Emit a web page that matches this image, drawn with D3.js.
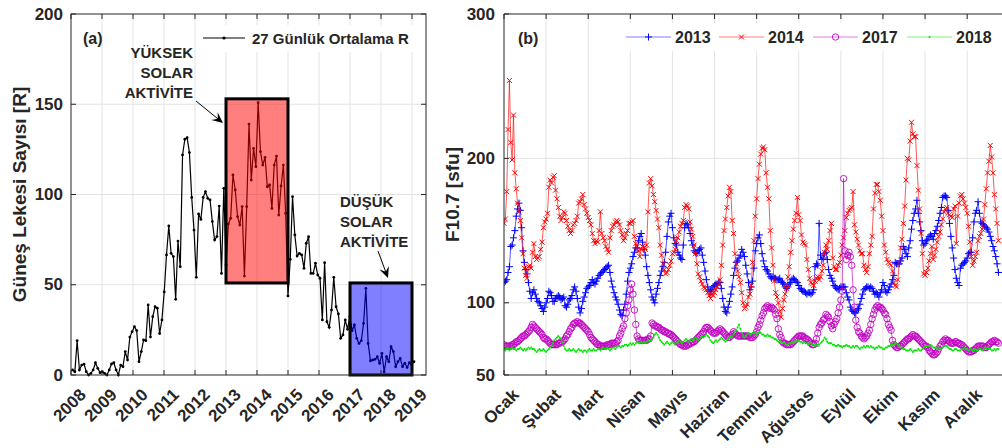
<!DOCTYPE html>
<html>
<head>
<meta charset="utf-8">
<script src="https://cdn.jsdelivr.net/npm/d3@7"></script>
<style>
body { margin: 0; background: #fff; }
text { font-family: "Liberation Sans", Arial, sans-serif; font-weight: bold; fill: #262626; }
</style>
</head>
<body>
<div id="container"></div>
<script>
// --- DATA ---
// (a) 27 day mean sunspot number, one value per 27 days from 2008.05
var sunStartYear = 2008.05
var sunStepDays = 27
var sunspotR = [2.8,1.8,19,2.8,5.5,6,1.8,0,0.9,2.8,6.8,3.7,1.3,1.8,0.9,0,2.8,6.1,6.8,2.8,
    0,5.5,4.6,13,8.3,21,24,26.8,24.6,7.4,13,19.4,19,38.8,21,32.3,37.8,37,23,30.5,
    46,66.5,82.6,67.4,65.6,41.9,74.2,60,121.9,130.6,131.5,123.2,98.4,80.3,54.1,89.2,86.2,98.4,101.6,97.9,
    97,85,74.8,76.7,93.6,56.3,103.4,61,83.7,86.8,110.8,102.5,87.7,83.1,93.3,54.8,93.3,139,108,125.6,
    115.4,150.9,123.7,116.3,120.6,104.3,105.3,92.3,116.3,121.3,88.6,104.7,116.3,89.6,43.8,64.1,98.8,77.6,65.9,67.4,
    66.5,59.1,73,76.6,56.3,56.3,61.9,55.4,53.6,30.5,62.2,29.5,26.4,36,54.1,37.8,33.8,20.3,22.2,30.5,
    25.3,32.3,24.6,27.7,20.3,17.5,19,28.6,48,17.5,7.9,8.3,8.7,10.1,6.5,12,1.8,10.1,7.4,15.7,
    13,4.6,7.4,9.2,4.6,6.5,4.2,6.8,5.5,7.4]
var yearTicks = [2008,2009,2010,2011,2012,2013,2014,2015,2016,2017,2018,2019]
var sunTicks = [0,50,100,150,200]
// shaded periods [startYear, endYear, lowR, highR]
var highPeriod = [2013, 2015, 51, 153]
var lowPeriod = [2017, 2019, 0, 51]

// (b) daily F10.7, day of year 1..365
var f2013 = [114,115,116,121,125,139,140,145,150,160,165,169,164,152,136,128,123,120,114,108,
    103,107,109,106,103,101,100,98,96,94,97,100,103,108,107,105,101,101,103,104,
    105,104,102,103,104,98,97,99,102,103,105,109,111,108,103,97,93,96,101,104,
    107,110,111,112,114,116,114,113,115,117,119,120,121,122,123,124,125,126,121,115,
    111,107,104,102,99,95,92,91,95,99,106,115,121,124,127,132,135,138,138,143,
    146,148,142,137,133,125,119,114,109,104,102,100,106,110,114,119,122,125,128,135,
    146,156,160,162,152,145,141,140,135,133,131,130,140,152,155,154,152,148,143,140,
    136,135,134,136,137,138,133,128,122,116,111,108,108,109,111,112,113,113,114,114,
    110,103,97,94,93,97,101,106,111,119,124,128,129,131,133,137,135,132,126,120,
    114,109,111,115,124,136,141,145,147,141,134,129,125,123,122,120,118,117,118,117,
    117,116,116,117,115,114,113,111,110,111,113,114,116,117,116,115,114,112,110,109,
    108,108,107,106,107,107,106,107,109,125,127,126,155,133,130,131,134,135,130,123,
    119,117,115,112,111,110,109,110,111,111,111,111,107,104,102,97,95,94,93,93,
    95,96,99,103,106,109,110,111,111,110,111,110,108,106,107,106,104,107,109,114,
    112,108,107,109,111,113,116,119,128,127,127,127,129,131,139,137,134,132,138,143,
    151,157,162,165,171,162,156,150,143,140,141,143,144,146,147,146,144,148,150,153,
    157,162,166,173,174,174,173,164,155,146,138,131,123,117,114,112,124,126,127,128,
    129,131,134,135,135,145,156,162,164,170,162,156,155,154,153,152,151,149,146,143,
    139,136,132,127,121]
var f2014 = [155,158,177,220,254,211,199,230,190,179,169,163,157,145,134,124,119,117,125,126,
    124,135,141,132,130,131,132,137,142,152,156,158,162,180,185,183,187,188,178,172,
    166,160,157,159,163,162,157,153,150,148,150,154,155,157,160,169,170,172,175,168,
    165,162,159,157,154,148,143,141,143,142,150,163,148,145,143,139,137,135,145,150,
    153,154,156,157,156,154,150,147,143,145,148,150,155,155,156,157,146,141,139,136,
    132,137,139,138,137,140,163,183,186,181,175,170,164,158,152,140,133,127,123,120,
    121,123,126,129,134,135,137,143,145,149,153,155,157,166,168,167,165,156,151,146,
    140,134,127,120,118,115,113,111,110,109,107,105,103,106,105,107,109,111,113,116,
    126,140,150,158,166,174,180,177,157,148,134,127,122,118,114,107,100,96,97,99,
    104,106,112,128,143,160,172,186,196,203,207,208,206,190,180,172,150,138,126,115,
    107,104,100,94,90,96,102,106,110,118,125,135,143,151,157,162,173,161,157,147,
    142,141,140,130,123,117,114,113,112,115,117,118,116,118,122,126,135,140,137,143,
    150,155,131,125,123,123,126,128,133,140,145,150,159,162,164,165,166,177,154,149,
    144,140,136,134,134,126,123,121,125,134,140,146,165,176,182,182,177,171,160,150,
    140,135,130,128,127,126,122,114,112,111,116,128,138,144,155,167,185,200,199,212,
    225,217,215,215,195,178,165,148,134,120,119,121,124,129,134,139,130,133,137,142,
    146,149,154,158,163,165,166,162,161,160,159,165,167,141,160,169,174,175,172,169,
    166,162,153,142,132,126,129,132,135,143,146,148,151,158,168,179,190,198,209,201,
    190,175,165,155,143]
var f2017 = [71,70,70,70,70,70,71,71,72,73,73,74,75,76,77,77,78,79,80,81,
    83,85,84,83,82,81,80,79,78,76,75,75,74,73,72,71,71,71,71,71,
    72,72,73,73,74,75,77,78,80,82,83,85,86,86,87,86,86,85,84,83,
    82,81,80,78,76,75,74,73,72,71,71,70,70,70,70,70,71,71,71,72,
    72,72,72,73,74,77,79,82,84,89,93,98,102,109,113,106,95,85,77,75,
    74,74,74,74,74,74,75,75,77,86,85,84,84,83,83,82,81,81,80,80,
    79,79,78,78,77,76,75,74,73,72,71,71,70,70,70,71,71,72,72,73,
    73,74,75,76,77,78,79,80,82,83,83,82,81,80,79,79,79,80,81,82,
    81,80,79,78,77,76,76,77,78,80,79,78,77,77,77,77,77,77,77,77,
    77,76,76,76,77,78,80,83,85,88,91,93,96,97,98,97,96,97,96,95,
    92,89,82,78,76,73,72,72,71,71,71,71,72,73,74,75,76,77,77,77,
    77,76,75,75,74,73,72,71,71,72,75,79,83,85,86,88,89,92,91,90,
    87,84,82,85,87,89,93,97,102,108,186,136,130,133,135,132,126,109,97,88,
    83,80,79,77,76,75,76,77,79,81,85,89,92,95,97,98,97,97,96,95,
    93,92,89,85,83,81,74,71,70,69,69,70,70,71,72,73,74,75,75,76,
    77,78,77,77,76,75,74,73,72,71,70,70,69,67,66,65,64,64,65,66,
    68,70,71,73,74,75,74,74,73,72,72,72,73,73,72,72,71,71,70,69,
    68,67,66,66,66,67,67,68,69,70,70,70,70,70,69,69,70,71,72,73,
    73,74,73,73,72]
var f2018 = [68,67,68,68,67,68,69,68,68,67,68,68,69,68,67,68,67,68,69,68,
    69,68,68,67,66,67,68,67,67,68,67,66,67,68,69,70,72,74,75,76,
    77,76,75,73,70,68,67,67,68,67,67,68,67,66,67,68,67,67,66,67,
    67,66,67,68,67,67,68,67,67,68,68,67,68,69,68,68,69,68,67,68,
    69,69,68,69,70,70,69,70,70,71,71,70,71,72,71,72,71,72,73,72,
    72,73,72,73,72,73,74,73,74,75,76,78,79,78,76,74,73,72,71,72,
    73,72,71,72,73,72,71,72,73,74,73,72,73,74,75,74,73,74,75,74,
    75,76,75,74,75,76,77,76,77,78,77,76,74,73,72,73,74,73,74,75,
    76,75,74,73,74,75,76,77,76,78,80,81,83,85,82,79,77,76,77,78,
    79,78,78,79,80,79,78,79,80,79,78,78,77,77,78,77,77,76,76,75,
    75,74,73,74,73,72,73,72,71,71,72,72,73,72,73,74,73,74,73,73,
    72,73,72,72,71,72,72,71,71,70,71,70,71,72,73,74,76,75,73,72,
    72,72,71,71,70,70,71,70,70,69,70,70,71,70,70,69,69,70,69,70,
    70,69,68,69,69,70,69,70,70,69,70,69,69,68,69,69,70,69,69,68,
    68,69,69,70,70,71,71,71,72,72,71,70,69,69,68,68,67,67,67,68,
    67,66,67,67,67,68,67,67,68,69,70,70,70,70,71,70,69,69,69,68,
    69,68,68,69,70,70,70,69,68,68,67,67,68,68,67,67,67,68,68,69,
    68,68,67,68,68,67,67,68,67,67,68,68,67,68,69,68,69,68,68,67,
    67,68,67,68,68]
var seriesNames = ["2013", "2014", "2017", "2018"]
var monthNames = ["Ocak","Şubat","Mart","Nisan","Mayıs","Haziran","Temmuz","Ağustos","Eylül","Ekim","Kasım","Aralık"]
var monthStepDays = 31
var fluxTicks = [50, 100, 200, 300]

// --- SVG ---
var svg = d3.select("#container")
    .append("svg")
    .attr("width", 1002)
    .attr("height", 448)

var axisColor = "#262626"
var gridColor = "#e3e3e3"
var tickFont = "17px"

// ---------- PANEL (a) ----------
var xA = d3.scaleLinear().domain([2008, 2019 + 14 / 31]).range([71, 426])
var yA = d3.scaleLinear().domain([0, 200]).range([375, 14])

var gA = svg.append("g")

// grid
gA.selectAll(".vg").data(yearTicks.slice(1)).enter().append("line")
    .attr("x1", d => xA(d)).attr("x2", d => xA(d))
    .attr("y1", 14).attr("y2", 375)
    .attr("stroke", gridColor)
gA.selectAll(".hg").data(sunTicks.slice(1, -1)).enter().append("line")
    .attr("x1", 71).attr("x2", 426)
    .attr("y1", d => yA(d)).attr("y2", d => yA(d))
    .attr("stroke", gridColor)

var sunPts = sunspotR.map(function(v, i){
    return [sunStartYear + i * sunStepDays / 365.25, v]
})
var lineA = d3.line().x(d => xA(d[0])).y(d => yA(d[1]))

gA.append("path").datum(sunPts)
    .attr("d", lineA)
    .attr("fill", "none")
    .attr("stroke", "#000")
    .attr("stroke-width", 1.2)
gA.selectAll(".sp").data(sunPts).enter().append("circle")
    .attr("cx", d => xA(d[0])).attr("cy", d => yA(d[1]))
    .attr("r", 1.4).attr("fill", "#000")

// shaded boxes
var boxes = [[highPeriod, "rgba(255,0,0,0.5)"], [lowPeriod, "rgba(0,0,255,0.5)"]]
gA.selectAll(".box").data(boxes).enter().append("rect")
    .attr("x", d => xA(d[0][0]))
    .attr("y", d => yA(d[0][3]))
    .attr("width", d => xA(d[0][1]) - xA(d[0][0]))
    .attr("height", d => yA(d[0][2]) - yA(d[0][3]))
    .attr("fill", d => d[1])
    .attr("stroke", "#000")
    .attr("stroke-width", 3)

// axes box + ticks
gA.append("rect").attr("x", 71).attr("y", 14).attr("width", 355).attr("height", 361)
    .attr("fill", "none").attr("stroke", axisColor).attr("stroke-width", 1)
yearTicks.forEach(function(t){
    gA.append("line").attr("x1", xA(t)).attr("x2", xA(t)).attr("y1", 375).attr("y2", 370).attr("stroke", axisColor)
    gA.append("line").attr("x1", xA(t)).attr("x2", xA(t)).attr("y1", 14).attr("y2", 19).attr("stroke", axisColor)
    gA.append("text")
        .attr("transform", "translate(" + (xA(t) + 12) + ",392) rotate(-45)")
        .attr("text-anchor", "end")
        .attr("dominant-baseline", "central")
        .style("font-size", tickFont)
        .text(t)
})
sunTicks.forEach(function(t){
    gA.append("line").attr("x1", 71).attr("x2", 76).attr("y1", yA(t)).attr("y2", yA(t)).attr("stroke", axisColor)
    gA.append("line").attr("x1", 426).attr("x2", 421).attr("y1", yA(t)).attr("y2", yA(t)).attr("stroke", axisColor)
    gA.append("text")
        .attr("x", 63).attr("y", yA(t))
        .attr("text-anchor", "end")
        .attr("dominant-baseline", "central")
        .style("font-size", tickFont)
        .text(t)
})
gA.append("text")
    .attr("transform", "translate(19,194.5) rotate(-90)")
    .attr("text-anchor", "middle")
    .attr("dominant-baseline", "central")
    .style("font-size", "19px")
    .text("Güneş Lekesi Sayısı [R]")

// legend (a)
gA.append("rect").attr("x", 198).attr("y", 25).attr("width", 218).attr("height", 27).attr("fill", "#fff")
gA.append("line").attr("x1", 203).attr("x2", 245).attr("y1", 38).attr("y2", 38).attr("stroke", "#000").attr("stroke-width", 1.2)
gA.append("circle").attr("cx", 224).attr("cy", 38).attr("r", 1.6).attr("fill", "#000")
gA.append("text").attr("x", 252).attr("y", 38).attr("dominant-baseline", "central")
    .style("font-size", "15px").text("27 Günlük Ortalama R")
gA.append("text").attr("x", 83).attr("y", 38).attr("dominant-baseline", "central")
    .style("font-size", "16px").text("(a)")

// annotations
function drawArrow(g, x1, y1, x2, y2){
    var dx = x2 - x1, dy = y2 - y1
    var len = Math.sqrt(dx * dx + dy * dy)
    var ux = dx / len, uy = dy / len
    var nx = -uy, ny = ux
    var L = 11, W = 5
    g.append("line").attr("x1", x1).attr("y1", y1).attr("x2", x2 - ux * 6).attr("y2", y2 - uy * 6)
        .attr("stroke", "#000").attr("stroke-width", 1)
    var pts = [
        [x2, y2],
        [x2 - L * ux + W * nx, y2 - L * uy + W * ny],
        [x2 - 0.6 * L * ux, y2 - 0.6 * L * uy],
        [x2 - L * ux - W * nx, y2 - L * uy - W * ny]
    ]
    g.append("polygon").attr("points", pts.map(p => p.join(",")).join(" ")).attr("fill", "#000")
}
var highLabel = ["YÜKSEK", "SOLAR", "AKTİVİTE"]
var lowLabel = ["DÜŞÜK", "SOLAR", "AKTİVİTE"]
highLabel.forEach(function(s, i){
    gA.append("text").attr("x", 193).attr("y", 58 + i * 20)
        .attr("text-anchor", "end").style("font-size", "15px").text(s)
})
lowLabel.forEach(function(s, i){
    gA.append("text").attr("x", 340).attr("y", 207 + i * 20)
        .attr("text-anchor", "start").style("font-size", "15px").text(s)
})
drawArrow(gA, 196, 101, 223, 123)
drawArrow(gA, 378, 251, 388, 278)

// ---------- PANEL (b) ----------
var xB = d3.scaleLinear().domain([1, 368]).range([504, 1002.5])
var yB = d3.scaleLinear().domain([50, 300]).range([375, 14])
var gB = svg.append("g")

var monthTicks = monthNames.map((m, i) => 1 + i * monthStepDays)

gB.selectAll(".vg").data(monthTicks.slice(1)).enter().append("line")
    .attr("x1", d => xB(d)).attr("x2", d => xB(d))
    .attr("y1", 14).attr("y2", 375)
    .attr("stroke", gridColor)
gB.selectAll(".hg").data(fluxTicks.slice(1, -1)).enter().append("line")
    .attr("x1", 504).attr("x2", 1002)
    .attr("y1", d => yB(d)).attr("y2", d => yB(d))
    .attr("stroke", gridColor)

svg.append("clipPath").attr("id", "clipB").append("rect")
    .attr("x", 504).attr("y", 14).attr("width", 500).attr("height", 361)
var plotB = gB.append("g").attr("clip-path", "url(#clipB)")

var series = [
    {name: seriesNames[0], values: f2013, color: "#0000ff", marker: "plus"},
    {name: seriesNames[1], values: f2014, color: "#ff0000", marker: "cross"},
    {name: seriesNames[2], values: f2017, color: "#bf00bf", marker: "circle"},
    {name: seriesNames[3], values: f2018, color: "#00e600", marker: "dot"}
]
var lineB = d3.line().x((d, i) => xB(i + 1)).y(d => yB(d))

function drawMarker(g, type, x, y, color){
    if (type == "plus") {
        g.append("path").attr("d", "M" + (x - 3.5) + "," + y + "h7M" + x + "," + (y - 3.5) + "v7")
            .attr("stroke", color).attr("stroke-width", 1).attr("fill", "none")
    } else if (type == "cross") {
        g.append("path").attr("d", "M" + (x - 2.5) + "," + (y - 2.5) + "l5,5M" + (x - 2.5) + "," + (y + 2.5) + "l5,-5")
            .attr("stroke", color).attr("stroke-width", 1).attr("fill", "none")
    } else if (type == "circle") {
        g.append("circle").attr("cx", x).attr("cy", y).attr("r", 3.2)
            .attr("stroke", color).attr("stroke-width", 0.9).attr("fill", "none")
    } else {
        g.append("circle").attr("cx", x).attr("cy", y).attr("r", 1).attr("fill", color)
    }
}

series.forEach(function(s){
    var g = plotB.append("g")
    g.append("path").datum(s.values)
        .attr("d", lineB)
        .attr("fill", "none")
        .attr("stroke", s.color)
        .attr("stroke-opacity", 0.65)
        .attr("stroke-width", 1)
    s.values.forEach(function(v, i){
        drawMarker(g, s.marker, xB(i + 1), yB(v), s.color)
    })
})

// axes b
gB.append("line").attr("x1", 504).attr("x2", 1002).attr("y1", 375).attr("y2", 375).attr("stroke", axisColor)
gB.append("line").attr("x1", 504).attr("x2", 1002).attr("y1", 14).attr("y2", 14).attr("stroke", axisColor)
gB.append("line").attr("x1", 504).attr("x2", 504).attr("y1", 14).attr("y2", 375).attr("stroke", axisColor)
monthTicks.forEach(function(t, i){
    gB.append("line").attr("x1", xB(t)).attr("x2", xB(t)).attr("y1", 375).attr("y2", 370).attr("stroke", axisColor)
    gB.append("line").attr("x1", xB(t)).attr("x2", xB(t)).attr("y1", 14).attr("y2", 19).attr("stroke", axisColor)
    gB.append("text")
        .attr("transform", "translate(" + (xB(t) + 12) + ",392) rotate(-45)")
        .attr("text-anchor", "end")
        .attr("dominant-baseline", "central")
        .style("font-size", tickFont)
        .text(monthNames[i])
})
fluxTicks.forEach(function(t){
    gB.append("line").attr("x1", 504).attr("x2", 509).attr("y1", yB(t)).attr("y2", yB(t)).attr("stroke", axisColor)
    gB.append("text")
        .attr("x", 495).attr("y", yB(t))
        .attr("text-anchor", "end")
        .attr("dominant-baseline", "central")
        .style("font-size", tickFont)
        .text(t)
})
gB.append("text")
    .attr("transform", "translate(452,194.5) rotate(-90)")
    .attr("text-anchor", "middle")
    .attr("dominant-baseline", "central")
    .style("font-size", "19px")
    .text("F10.7 [sfu]")

// legend (b)
gB.append("rect").attr("x", 618).attr("y", 23).attr("width", 384).attr("height", 28).attr("fill", "#fff")
var legX = [626, 719, 813, 907]
series.forEach(function(s, i){
    var g = gB.append("g")
    g.append("line").attr("x1", legX[i]).attr("x2", legX[i] + 45).attr("y1", 37).attr("y2", 37)
        .attr("stroke", s.color).attr("stroke-opacity", 0.5)
    drawMarker(g, s.marker, legX[i] + 22.5, 37, s.color)
    g.append("text").attr("x", legX[i] + 49).attr("y", 37).attr("dominant-baseline", "central")
        .style("font-size", "16px").text(s.name)
})
gB.append("text").attr("x", 518).attr("y", 38).attr("dominant-baseline", "central")
    .style("font-size", "16px").text("(b)")
</script>
</body>
</html>
